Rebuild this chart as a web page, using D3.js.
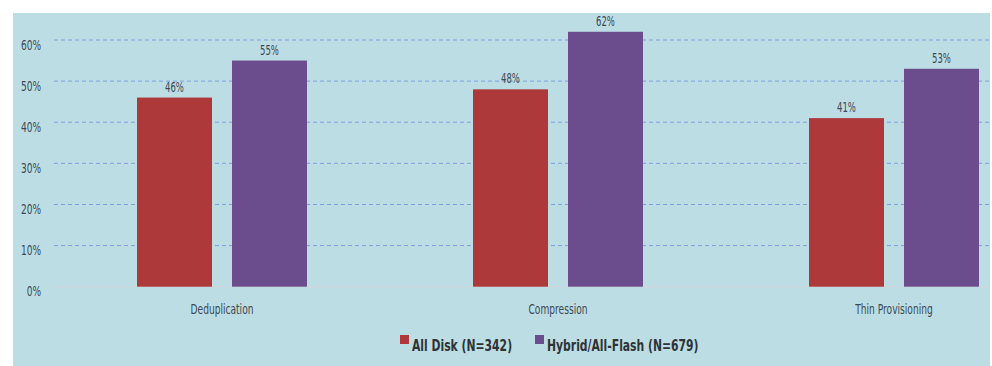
<!DOCTYPE html>
<html>
<head>
<meta charset="utf-8">
<script src="https://cdn.jsdelivr.net/npm/d3@7"></script>
<style>
html,body{margin:0;padding:0;background:#fff;}
svg{display:block;}
</style>
</head>
<body>
<svg id="chart" width="992" height="366"></svg>
<script>
const categories = ["Deduplication", "Compression", "Thin Provisioning"];
const seriesNames = ["All Disk (N=342)", "Hybrid/All-Flash (N=679)"];
const allDisk = [46, 48, 41];
const hybridFlash = [55, 62, 53];
const yTicks = [0, 10, 20, 30, 40, 50, 60];
const colors = ["#ae393b", "#6b4c8c"];

const svg = d3.select("#chart");
const H = 366;
const font = "'DejaVu Sans',sans-serif";

// draw text horizontally condensed by factor k, anchored at (tx, ty)
function ctext(parent, tx, ty, str, k, opts) {
  const t = parent.append("text")
    .attr("transform", `translate(${tx},${ty}) scale(${k},1)`)
    .attr("x", 0).attr("y", 0)
    .attr("font-family", font)
    .attr("font-size", opts.size)
    .attr("font-weight", opts.weight || "normal")
    .attr("text-anchor", opts.anchor || "start")
    .attr("fill", opts.fill || "#3d4a55")
    .text(str);
  return t;
}

svg.append("rect").attr("x", 13).attr("y", 13).attr("width", 977).attr("height", H - 13).attr("fill", "#bcdde3");

const x = d3.scaleBand().domain(categories).range([54, 1062]).paddingInner(0).paddingOuter(0);
const y = d3.scaleLinear().domain([0, 60]).range([286.7, 40]);
const series = [allDisk, hybridFlash];

const clip = svg.append("defs").append("clipPath").attr("id", "c");
clip.append("rect").attr("x", 13).attr("y", 13).attr("width", 977).attr("height", H - 13);

const g = svg.append("g").attr("clip-path", "url(#c)");

// gridlines
g.selectAll("line.grid").data(yTicks.filter(d => d > 0)).join("line")
  .attr("x1", 54).attr("x2", 990)
  .attr("y1", d => y(d)).attr("y2", d => y(d))
  .attr("stroke", "#7f9fe0").attr("stroke-width", 1).attr("stroke-dasharray", "4,3");
g.append("line").attr("x1", 54).attr("x2", 990).attr("y1", y(0)).attr("y2", y(0))
  .attr("stroke", "#d3d6da").attr("stroke-width", 1);

// y labels
yTicks.forEach(d => {
  ctext(svg, 41, y(d) + 9.5, d + "%", 0.67, {size: 13.5, anchor: "end"});
});

// bars
const barW = 75, gap = 20;
categories.forEach((cat, i) => {
  const cx = x(cat) + x.bandwidth() / 2;
  series.forEach((s, j) => {
    const bx = cx - (barW * 2 + gap) / 2 + j * (barW + gap);
    g.append("rect").attr("x", bx).attr("y", y(s[i])).attr("width", barW)
      .attr("height", y(0) - y(s[i])).attr("fill", colors[j]);
    ctext(g, bx + barW / 2, y(s[i]) - 6, s[i] + "%", 0.63, {size: 13.5, anchor: "middle"});
  });
  ctext(g, cx, y(0) + 27, cat, 0.65, {size: 14, anchor: "middle"});
});

// legend
const legend = [{x: 400, name: seriesNames[0], c: colors[0]}, {x: 535, name: seriesNames[1], c: colors[1]}];
legend.forEach(l => {
  svg.append("rect").attr("x", l.x).attr("y", 335).attr("width", 9).attr("height", 9).attr("fill", l.c);
  ctext(svg, l.x + 12, 351, l.name, 0.655, {size: 16.5, weight: "bold", fill: "#2e3338"});
});
</script>
</body>
</html>
